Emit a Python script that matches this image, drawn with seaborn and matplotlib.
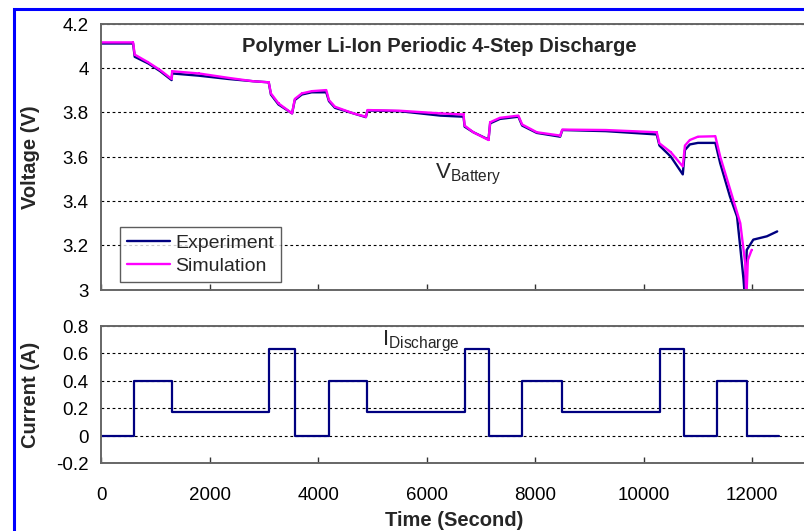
import matplotlib
matplotlib.use("Agg")
import matplotlib.pyplot as plt
from matplotlib.patches import Rectangle
import pandas as pd
import seaborn as sns

# Tensión medida (experimento)
t_exp = [0, 590, 620, 870, 1090, 1300, 1310, 1800, 2350, 2800, 3090, 3130, 3270,
         3520, 3570, 3700, 3880, 4150, 4200, 4310, 4650, 4880, 4910, 5500, 6250,
         6680, 6700, 6860, 7140, 7170, 7350, 7690, 7760, 8030, 8460, 8500, 9300,
         10240, 10290, 10500, 10720, 10760, 10850, 11000, 11320, 11410, 11590,
         11720, 11780, 11840, 11860, 11900, 12020, 12270, 12460]
v_exp = [4.11, 4.11, 4.05, 4.02, 3.985, 3.945, 3.975, 3.965, 3.95, 3.94, 3.935, 3.88,
         3.835, 3.795, 3.855, 3.88, 3.89, 3.89, 3.85, 3.82, 3.795, 3.778, 3.808,
         3.805, 3.785, 3.78, 3.735, 3.71, 3.677, 3.75, 3.77, 3.78, 3.74, 3.707,
         3.69, 3.72, 3.715, 3.70, 3.65, 3.60, 3.52, 3.63, 3.655, 3.662, 3.662,
         3.57, 3.42, 3.33, 3.19, 3.045, 2.98, 3.18, 3.226, 3.241, 3.263]

# Tensión simulada
t_sim = [0, 590, 620, 870, 1090, 1300, 1310, 1800, 2350, 2800, 3090, 3130, 3270,
         3520, 3570, 3700, 3880, 4150, 4200, 4310, 4650, 4880, 4910, 5500, 6250,
         6680, 6700, 6860, 7140, 7170, 7350, 7690, 7760, 8030, 8460, 8500, 9300,
         10240, 10290, 10500, 10720, 10760, 10850, 11000, 11320, 11410, 11650,
         11780, 11870, 11890, 11920, 11990]
v_sim = [4.115, 4.115, 4.06, 4.025, 3.99, 3.95, 3.985, 3.975, 3.955, 3.94, 3.935,
         3.885, 3.84, 3.795, 3.86, 3.885, 3.895, 3.90, 3.855, 3.825, 3.795, 3.78,
         3.81, 3.807, 3.795, 3.79, 3.74, 3.71, 3.675, 3.755, 3.775, 3.785, 3.745,
         3.71, 3.695, 3.722, 3.72, 3.71, 3.66, 3.62, 3.556, 3.65, 3.675, 3.69,
         3.692, 3.60, 3.406, 3.30, 3.12, 2.95, 3.135, 3.18]

# Corriente de descarga (escalones)
t_cur = [0, 600, 1300, 3100, 3575, 4200, 4900, 6700, 7150, 7750, 8500, 10300,
         10750, 11350, 11900, 12500]
i_cur = [0, 0.4, 0.17, 0.63, 0, 0.4, 0.17, 0.63, 0, 0.4, 0.17, 0.63, 0, 0.4, 0, 0]

x_ticks = [0, 2000, 4000, 6000, 8000, 10000, 12000]
v_ticks = [3, 3.2, 3.4, 3.6, 3.8, 4, 4.2]
v_labels = ["3", "3.2", "3.4", "3.6", "3.8", "4", "4.2"]
i_ticks = [-0.2, 0, 0.2, 0.4, 0.6, 0.8]
i_labels = ["-0.2", "0", "0.2", "0.4", "0.6", "0.8"]

sns.set_theme(style="white")
plt.rcParams["font.family"] = ["Liberation Sans", "DejaVu Sans"]

df_exp = pd.DataFrame({"t": t_exp, "v": v_exp})
df_sim = pd.DataFrame({"t": t_sim, "v": v_sim})
df_cur = pd.DataFrame({"t": t_cur, "i": i_cur})

fig = plt.figure(figsize = (8.045, 5.315), dpi = 100)
ax_v = fig.add_axes([101 / 804, 241 / 531, 705 / 804, 266 / 531])
ax_i = fig.add_axes([101 / 804, 68 / 531, 705 / 804, 137 / 531])

sns.lineplot(data = df_exp, x = "t", y = "v", ax = ax_v, color = "#000080",
             linewidth = 1.7, estimator = None, sort = False, label = "Experiment")
sns.lineplot(data = df_sim, x = "t", y = "v", ax = ax_v, color = "#FF00FF",
             linewidth = 1.7, estimator = None, sort = False, marker = "s",
             markersize = 2, markeredgewidth = 0, label = "Simulation")
sns.lineplot(data = df_cur, x = "t", y = "i", ax = ax_i, color = "#000080",
             linewidth = 1.6, estimator = None, sort = False, drawstyle = "steps-post",
             legend = False)

grid_style = dict(color = "black", linestyle = (0, (2.5, 2.5)), linewidth = 0.8)
for ax, ticks, labels, lims in [(ax_v, v_ticks, v_labels, (3, 4.2)),
                                (ax_i, i_ticks, i_labels, (-0.2, 0.8))]:
    ax.set_xlim(0, 13000)
    ax.set_ylim(*lims)
    ax.set_xticks(x_ticks)
    ax.set_yticks(ticks)
    ax.set_yticklabels(labels)
    ax.grid(axis = "y", **grid_style)
    ax.set_axisbelow(True)
    ax.tick_params(axis = "y", length = 0, pad = 9, labelsize = 13.5, colors = "black")
    ax.tick_params(axis = "x", direction = "in", length = 4, width = 1, color = "#333333",
                   bottom = True, labelsize = 13.5, pad = 17, labelcolor = "black")
    for side in ["left", "top", "bottom"]:
        ax.spines[side].set_color("#666666")
        ax.spines[side].set_linewidth(1.4)
    ax.spines["right"].set_visible(False)

ax_v.set_xticklabels([])
ax_v.set_xlabel("")
ax_v.set_ylabel("Voltage (V)", fontsize = 14.5, fontweight = "bold")
ax_v.yaxis.set_label_coords(-0.086, 0.5)
ax_i.set_ylabel("Current (A)", fontsize = 14.5, fontweight = "bold")
ax_i.yaxis.set_label_coords(-0.086, 0.5)
ax_i.set_xticklabels([str(x) for x in x_ticks])
ax_i.set_xlabel("Time (Second)", fontsize = 14.5, fontweight = "bold", va = "top")
ax_i.xaxis.set_label_coords(0.5, -0.345)

ax_v.text(0.479, 0.914, "Polymer Li-Ion Periodic 4-Step Discharge", transform = ax_v.transAxes,
          ha = "center", va = "center", fontsize = 14.5, fontweight = "bold")
ax_v.text(0.474, 0.42, r"$\mathregular{V_{Battery}}$", transform = ax_v.transAxes,
          ha = "left", va = "baseline", fontsize = 16)
ax_i.text(0.398, 0.861, r"$\mathregular{I_{Discharge}}$", transform = ax_i.transAxes,
          ha = "left", va = "baseline", fontsize = 16)

leg = ax_v.legend(loc = "lower left", bbox_to_anchor = (0.027, 0.03), borderaxespad = 0,
                  fontsize = 14, frameon = True, fancybox = False, handlelength = 2.2,
                  handletextpad = 0.3, borderpad = 0.35, labelspacing = 0.3)
leg.get_frame().set_edgecolor("#333333")
leg.get_frame().set_linewidth(1)

fig.patches.append(Rectangle((13.5 / 804, -0.1), 1.2, 1.1 - 9.7 / 531,
                             transform = fig.transFigure, fill = False,
                             edgecolor = "#0000FF", linewidth = 2.2, zorder = 10))

fig.savefig("out.png", dpi = 100)
plt.close(fig)
